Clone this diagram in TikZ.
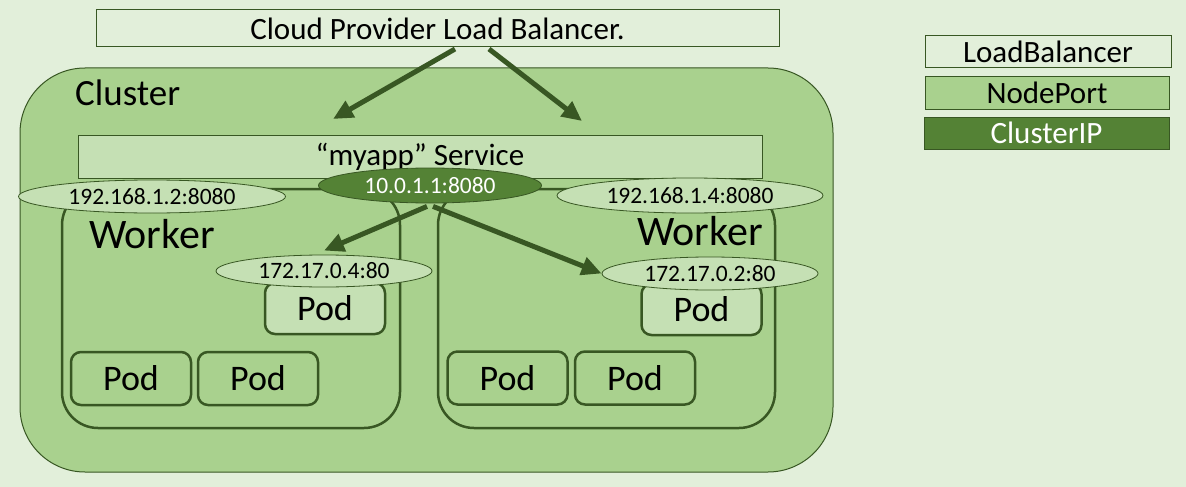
\documentclass[tikz,border=0pt]{standalone}
\usepackage{fontspec}
\setmainfont{Carlito}
\usetikzlibrary{arrows.meta,shapes.geometric}
\definecolor{bg}{HTML}{E2EFDA}
\definecolor{npfill}{HTML}{A9D18E}
\definecolor{ltfill}{HTML}{C5E0B4}
\definecolor{cipfill}{HTML}{548235}
\definecolor{dk}{HTML}{385723}
\begin{document}
\begin{tikzpicture}[x=1pt,y=-1pt,
  flatbox/.style={draw=dk,line width=1pt,inner sep=0pt,anchor=center,font=\fontsize{31}{31}\selectfont},
  workerbox/.style={draw=dk,line width=2.5pt,rounded corners=36pt},
  podbox/.style={draw=dk,line width=2.5pt,rounded corners=10pt,minimum width=120pt,inner sep=0pt,font=\fontsize{36}{36}\selectfont},
  ipell/.style={ellipse,draw=dk,line width=0.8pt,fill=ltfill,inner sep=0pt,font=\fontsize{23.5}{23.5}\selectfont},
  arr/.style={draw=dk,line width=5pt,-{Triangle[length=20pt,width=18pt]}},
  bigtext/.style={inner sep=0pt,font=\fontsize{37}{37}\selectfont},
  workertext/.style={inner sep=0pt,font=\fontsize{42}{42}\selectfont}
]
\fill[bg] (0,0) rectangle (1186,487);
\useasboundingbox (0,0) rectangle (1186,487);

% cloud load balancer
\node[flatbox,fill=bg,minimum width=683pt,minimum height=37pt] (cloud) at (437.5,28.5) {Cloud Provider Load Balancer.};

% cluster
\node[draw=dk,line width=1pt,fill=npfill,rounded corners=65pt,minimum width=813pt,minimum height=404pt] (cluster) at (426.5,270) {};
\node[bigtext,anchor=base west] (clustertxt) at (75,106) {Cluster};

% service
\node[flatbox,fill=ltfill,minimum width=684pt,minimum height=43pt] (svc) at (420,156.5) {“myapp” Service};

% workers
\draw[workerbox] (62,189) rectangle (400,428);
\draw[workerbox] (438,189) rectangle (775,428);
\node[workertext,anchor=base west] (w1) at (89,248) {Worker};
\node[workertext,anchor=base east] (w2) at (763,245) {Worker};

% pods
\node[podbox,fill=ltfill,minimum height=51pt] (p1) at (325,308.5) {Pod};
\node[podbox,minimum height=53pt] (p2) at (131,378.5) {Pod};
\node[podbox,minimum height=53pt] (p3) at (258,378.5) {Pod};
\node[podbox,fill=ltfill,minimum height=51pt] (p4) at (701.5,309.5) {Pod};
\node[podbox,minimum height=53pt] (p5) at (507.5,378) {Pod};
\node[podbox,minimum height=53pt] (p6) at (635,378) {Pod};

% ellipses
\node[ipell,minimum width=267pt,minimum height=33pt] (nip1) at (152,196.5) {192.168.1.2:8080};
\node[ipell,minimum width=266pt,minimum height=35pt] (nip2) at (690,195.5) {192.168.1.4:8080};
\node[ipell,fill=cipfill,text=white,minimum width=223pt,minimum height=35pt] (cip) at (430,185.5) {10.0.1.1:8080};
\node[ipell,minimum width=216pt,minimum height=32pt] (pip1) at (324,271) {172.17.0.4:80};
\node[ipell,minimum width=216pt,minimum height=33pt] (pip2) at (710,273.5) {172.17.0.2:80};

% arrows
\coordinate (a1s) at (455,49);
\coordinate (a1e) at (333,119);
\coordinate (a2s) at (489,49);
\coordinate (a2e) at (582,121);
\draw[arr] (a1s) -- (a1e);
\draw[arr] (a2s) -- (a2e);
\draw[arr] ([xshift=-3pt,yshift=-3pt]cip.south) -- ([yshift=4pt]pip1.north);
\draw[arr] ([xshift=3pt,yshift=-3pt]cip.south) -- (pip2.west);

% legend
\node[flatbox,fill=bg,minimum width=246pt,minimum height=32pt] (lgLB) at (1048,52) {LoadBalancer};
\node[flatbox,fill=npfill,minimum width=244pt,minimum height=32pt] (lgNP) at (1047,93) {NodePort};
\node[flatbox,fill=cipfill,text=white,minimum width=245pt,minimum height=32pt] (lgCIP) at (1046.5,133) {ClusterIP};
\end{tikzpicture}
\end{document}
